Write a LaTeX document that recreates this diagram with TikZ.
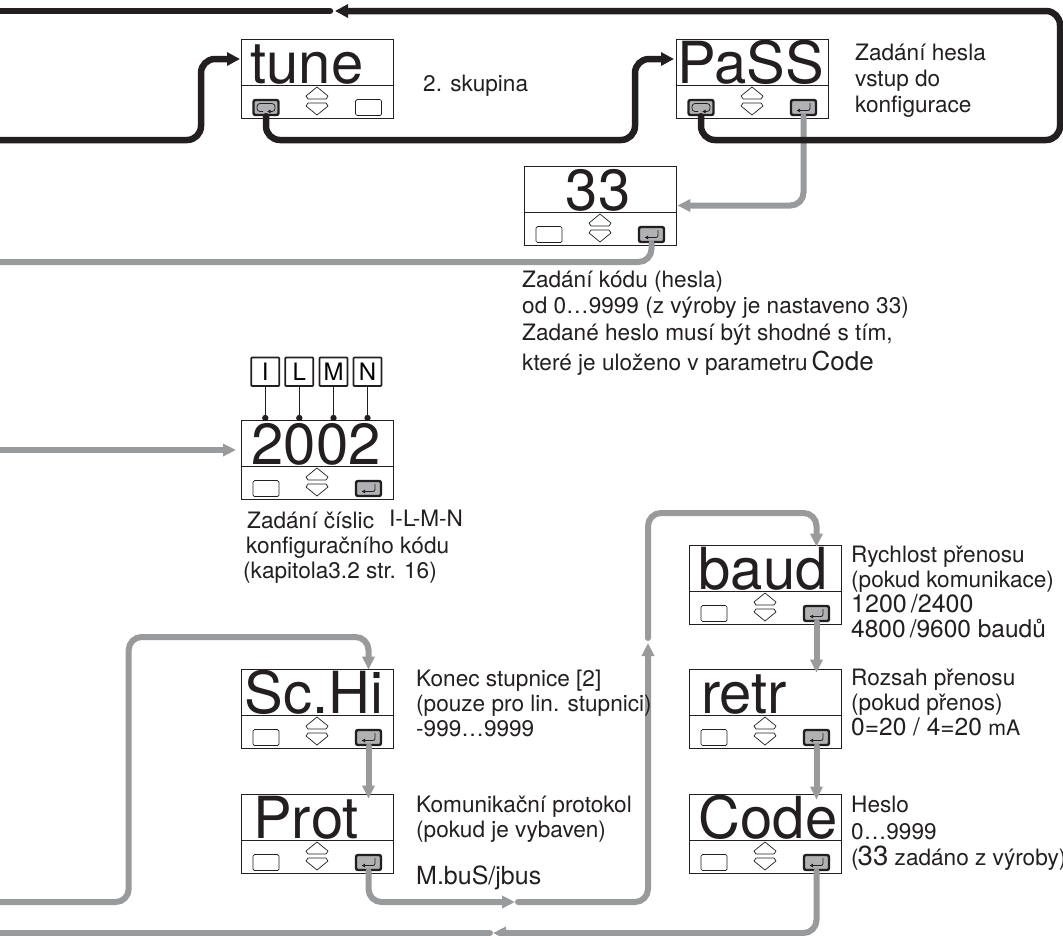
\documentclass[tikz,border=0pt]{standalone}
\usepackage{fontspec}
\setmainfont{TeX Gyre Heros}
\usetikzlibrary{arrows.meta}

\definecolor{flowblack}{HTML}{231F20}
\definecolor{flowgray}{HTML}{999A9C}
\definecolor{keygray}{HTML}{B0B1B3}

\newcommand{\fsize}[1]{\fontsize{#1}{#1}\selectfont}

\tikzset{
  panelbox/.style={draw=flowblack, line width=0.8pt, fill=white, minimum width=152pt, minimum height=79pt, inner sep=0pt},
  readout/.style={font=\fsize{58}, text=flowblack, anchor=base, inner sep=0pt},
  divider/.style={draw=flowblack, line width=0.7pt},
  updown/.style={draw=flowblack, line width=0.7pt, line join=round},
  blankkey/.style={draw=flowblack, line width=0.7pt, rounded corners=1.5pt, minimum width=26pt, minimum height=16pt, inner sep=0pt},
  activekey/.style={draw=flowblack, fill=keygray, line width=2.4pt, rounded corners=2pt, minimum width=25pt, minimum height=15pt, inner sep=0pt},
  enterkey/.style={activekey, path picture={
    \draw [line width=0.8pt, -{Latex[length=3.5pt,width=4pt]}, shift={(path picture bounding box.center)}] (6.5,-4.5) -- (6.5,3) -- (-7,3);
  }},
  loopkey/.style={activekey, path picture={
    \draw [line width=0.8pt, rounded corners=3pt, -{Latex[length=3.5pt,width=4pt]}, shift={(path picture bounding box.center)}] (-3,4) -- (-9,4) -- (-9,-4) -- (9,-4) -- (9,4) -- (1,4);
  }},
  mainflow/.style={draw=flowblack, line width=6.5pt, line cap=round, rounded corners=14pt},
  grayflow/.style={draw=flowgray, line width=6pt, line cap=round, rounded corners=13pt},
  blacktip/.style={-{Triangle[length=13pt,width=13pt]}, flowblack},
  graytip/.style={-{Triangle[length=13pt,width=12pt]}, flowgray},
  note/.style={font=\fontsize{22.6}{25}\selectfont, text=flowblack, align=left, anchor=base west, inner sep=0pt},
  letterbox/.style={draw=flowblack, line width=1.7pt, rounded corners=0.8pt, minimum width=28pt, minimum height=28.5pt, inner sep=0pt, font=\fsize{24}},
  pindot/.style={circle, fill=flowblack, minimum size=6.4pt, inner sep=0pt},
  pinline/.style={draw=flowblack, line width=0.8pt},
}

\newcommand{\panel}[7]{
  \node [panelbox] at (#2+76, #3+39.5) (#1) {};
  \node [readout] at (#5, #3+44.5) (#1-text) {#4};
  \draw [divider] (#2, #3+46) -- (#2+152, #3+46);
  \node [#6] at (#2+25, #3+68.5) (#1-l) {};
  \node [#7] at (#2+127.5, #3+68.5) (#1-r) {};
  \draw [updown] (#2+65, #3+57) -- (#2+76, #3+48) -- (#2+87, #3+57) -- (#2+85, #3+60) -- (#2+67, #3+60) -- cycle;
  \draw [updown] (#2+67, #3+64) -- (#2+85, #3+64) -- (#2+87, #3+67) -- (#2+76, #3+76) -- (#2+65, #3+67) -- cycle;
}

\begin{document}
\begin{tikzpicture}[x=1pt, y=-1pt]
  \useasboundingbox (0, 0) rectangle (1063, 935);

  \panel{tune}{241}{39}{tune}{307}{loopkey}{blankkey}
  \panel{pass}{676}{39}{PaSS}{751}{loopkey}{enterkey}
  \panel{kod}{524}{166}{33}{598}{blankkey}{enterkey}
  \panel{conf}{241}{420}{2002}{316}{blankkey}{enterkey}
  \panel{baud}{689}{545}{baud}{763}{blankkey}{enterkey}
  \panel{retr}{689}{669}{retr}{744}{blankkey}{enterkey}
  \panel{codebox}{689}{794}{Code}{768}{blankkey}{enterkey}
  \panel{schi}{241}{669}{Sc.Hi}{314}{blankkey}{enterkey}
  \panel{prot}{241}{794}{Prot}{306}{blankkey}{enterkey}

  \foreach \letter/\posx in {I/265.3, L/299.3, M/333.5, N/367.5} {
    \node [letterbox] at (\posx, 371.7) (conf-\letter) {\letter};
    \node [pindot] at (\posx, 418) (dot-\letter) {};
    \draw [pinline] (conf-\letter) -- (dot-\letter);
  }

  \coordinate (grayleft-a) at (0, 262);
  \coordinate (grayleft-b) at (0, 450);
  \coordinate (grayleft-c) at (0, 902);
  \coordinate (grayleft-d) at (0, 933);
  \coordinate (blackleft-a) at (0, 11);
  \coordinate (blackleft-b) at (0, 140);
  \coordinate (conf-in) at (236, 450);
  \coordinate (tune-in) at (240, 59);
  \coordinate (pass-in) at (674, 59);
  \coordinate (top-in) at (335, 11);
  \coordinate (top-out) at (330, 11);
  \coordinate (mid-in) at (515, 902);
  \coordinate (mid-out) at (518, 902);
  \coordinate (up-in) at (648, 643);
  \coordinate (up-out) at (648, 638);
  \coordinate (low-in) at (493, 933);
  \coordinate (low-out) at (490, 933);

  \draw [grayflow] (kod-r.south) |- (grayleft-a);
  \draw [grayflow, graytip] (pass-r.south) |- ([xshift=1pt]kod.east);
  \draw [grayflow, graytip] (grayleft-b) -- (conf-in);
  \draw [grayflow, graytip] (grayleft-c) -| (128.7, 637) -| ([yshift=-1pt]schi.north -| schi-r);
  \draw [grayflow, graytip] (schi-r.south) -- ([yshift=-5pt]prot.north -| prot-r);
  \draw [grayflow, graytip] (prot-r.south) |- (mid-in);
  \draw [grayflow, graytip] (mid-out) -| (up-in);
  \draw [grayflow, graytip] (up-out) |- (816.5, 513) -- ([yshift=-2pt]baud.north -| baud-r);
  \draw [grayflow, graytip] (baud-r.south) -- ([yshift=-4pt]retr.north -| retr-r);
  \draw [grayflow, graytip] (retr-r.south) -- ([yshift=-6pt]codebox.north -| codebox-r);
  \draw [grayflow, graytip] (codebox-r.south) |- (low-in);
  \draw [grayflow] (low-out) -- (grayleft-d);

  \draw [mainflow] (blackleft-a) -- (top-out);
  \draw [mainflow, blacktip] (pass-l.south) |- (1060, 140) |- (top-in);
  \draw [mainflow, blacktip] (tune-l.south) |- (635, 140) |- (pass-in);
  \draw [mainflow, blacktip] (blackleft-b) -| (201, 59) -- (tune-in);

  \node [note] at (423, 91) (tune-note) {2. skupina};
  \node [note] at (855, 112) (pass-note) {Zadání hesla\\[1pt]vstup do\\[1pt]konfigurace};
  \node [note] at (522, 370) (kod-note) {Zadání kódu (hesla)\\[1pt]od 0…9999 (z výroby je nastaveno 33)\\[2pt]Zadané heslo musí být shodné s tím,\\[5pt]které je uloženo v parametru\hspace{4pt}{\fsize{26}Code}};
  \node [note] at (247, 528) (conf-note) {Zadání číslic};
  \node [note] at (389, 526) (conf-letters) {I-L-M-N};
  \node [note] at (246, 553) (conf-note-b) {konfiguračního kódu};
  \node [note] at (243, 578) (conf-note-c) {(kapitola3.2 str. 16)};
  \node [note] at (416, 736) (schi-note) {Konec stupnice [2]\\(pouze pro lin. stupnici)\\-999…9999};
  \node [note] at (416, 837) (prot-note) {Komunikační protokol\\(pokud je vybaven)};
  \node [note, font=\fsize{25}] at (416, 884) (prot-bus) {M.buS/jbus};
  \node [note] at (851, 637) (baud-note) {Rychlost přenosu\\(pokud komunikace)\\{\fsize{25}1200\,/2400}\\{\fsize{24.5}4800\,/9600 baudů}};
  \node [note] at (851, 735) (retr-note) {Rozsah přenosu\\(pokud přenos)\\{\fsize{24.5}0=20 / 4=20} {\fsize{21.3}mA}};
  \node [note] at (851, 865) (code-note) {Heslo\\[2pt]0…9999\\[1pt](\kern-1pt{\fsize{27.6}33} zadáno z výroby)};
\end{tikzpicture}
\end{document}
